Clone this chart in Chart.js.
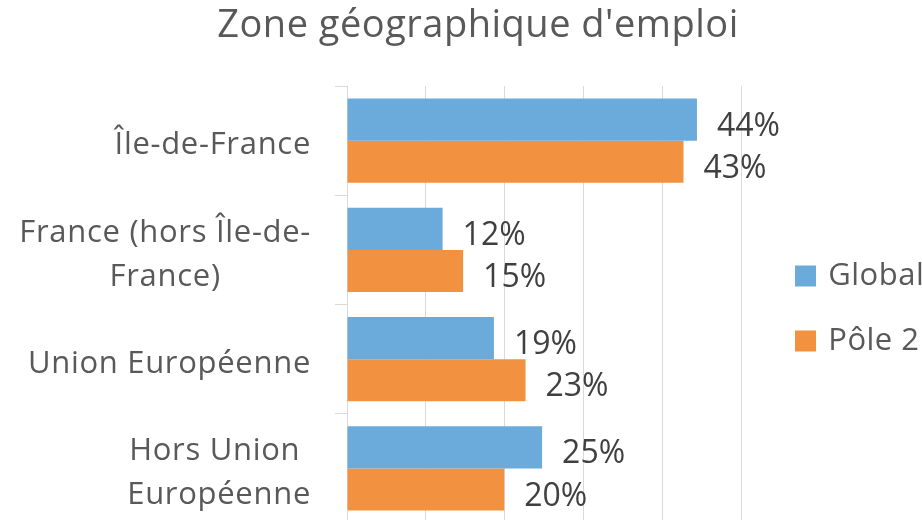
<!DOCTYPE html>
<html>
<head>
<meta charset="utf-8">
<script src="https://cdn.jsdelivr.net/npm/chart.js@4/dist/chart.umd.min.js"></script>
<style>
  html, body { margin: 0; padding: 0; background: #ffffff; overflow: hidden; }
  #wrap { width: 922px; height: 523px; position: relative; }
</style>
</head>
<body>
<div id="wrap"><canvas id="c"></canvas></div>
<script>
const chartTitle = "Zone géographique d'emploi";
const categories = [
  ['Île-de-France'],
  ['France (hors Île-de-', 'France)'],
  ['Union Européenne'],
  ['Hors Union ', 'Européenne']
];
const seriesNames = ['Global', 'Pôle 2'];
// bar lengths (labels show them rounded)
const globalValues = [44.3, 12.1, 18.6, 24.7];
const pole2Values = [42.6, 14.7, 22.6, 19.9];
const gridTicks = [0, 10, 20, 30, 40, 50];

const FONT = "'Open Sans', 'Noto Sans', sans-serif";
const TEXT_GREY = '#595959';

const spacing = {
  id: 'spacing',
  beforeDraw(chart) { chart.ctx.letterSpacing = '0.5px'; },
  afterDraw(chart) { chart.ctx.letterSpacing = '0px'; }
};

const legendShift = {
  id: 'legendShift',
  afterLayout(chart) {
    const lg = chart.legend;
    if (lg) { lg.top += 47; lg.bottom += 47; }
  }
};

const valueLabels = {
  id: 'valueLabels',
  afterDatasetsDraw(chart) {
    const ctx = chart.ctx;
    ctx.save();
    ctx.letterSpacing = '0px';
    ctx.font = '32px ' + FONT;
    ctx.fillStyle = '#404040';
    ctx.textAlign = 'left';
    ctx.textBaseline = 'middle';
    chart.data.datasets.forEach((ds, di) => {
      const meta = chart.getDatasetMeta(di);
      meta.data.forEach((el, i) => {
        ctx.fillText(Math.round(ds.data[i]) + '%', el.x + 20, el.y + 7);
      });
    });
    ctx.restore();
  }
};

const categoryLabels = {
  id: 'categoryLabels',
  afterDraw(chart) {
    const ctx = chart.ctx;
    const y = chart.scales.y;
    ctx.save();
    ctx.letterSpacing = '0.7px';
    ctx.font = '31px ' + FONT;
    ctx.fillStyle = TEXT_GREY;
    ctx.textAlign = 'center';
    ctx.textBaseline = 'middle';
    const right = y.right - 36;
    const lh = 44;
    categories.forEach((lines, i) => {
      const cy = y.getPixelForValue(i) + 5;
      const w = Math.max(...lines.map(l => ctx.measureText(l).width));
      const cx = right - w / 2;
      const start = cy - (lines.length - 1) * lh / 2;
      lines.forEach((l, k) => ctx.fillText(l, cx, start + k * lh));
    });
    ctx.restore();
  }
};

new Chart(document.getElementById('c'), {
  type: 'bar',
  data: {
    labels: categories,
    datasets: [
      { label: seriesNames[0], data: globalValues, backgroundColor: '#6BABDC', borderWidth: 0 },
      { label: seriesNames[1], data: pole2Values, backgroundColor: '#F29240', borderWidth: 0 }
    ]
  },
  options: {
    indexAxis: 'y',
    responsive: true,
    maintainAspectRatio: false,
    animation: false,
    events: [],
    layout: { padding: { left: 34, right: 0, top: 0, bottom: 0 } },
    datasets: { bar: { categoryPercentage: 0.77, barPercentage: 1.0 } },
    scales: {
      x: {
        min: 0,
        max: 52.82,
        afterBuildTicks(scale) { scale.ticks = gridTicks.map(v => ({ value: v })); },
        ticks: { display: false },
        grid: { color: '#D9D9D9', lineWidth: 1, drawTicks: false },
        border: { display: false }
      },
      y: {
        afterFit(scale) { scale.width = 313; },
        ticks: { display: false },
        grid: { drawOnChartArea: false, drawTicks: true, tickLength: 12, color: '#D9D9D9', offset: true },
        border: { display: true, color: '#D9D9D9' }
      }
    },
    plugins: {
      title: {
        display: true,
        text: chartTitle,
        color: TEXT_GREY,
        font: { family: FONT, size: 38, weight: 'normal' },
        padding: { top: 3, bottom: 37.4 }
      },
      legend: {
        position: 'right',
        align: 'center',
        maxWidth: 157.75,
        labels: {
          usePointStyle: true,
          pointStyle: 'rect',
          boxWidth: 14.5,
          boxHeight: 21,
          padding: 34,
          color: TEXT_GREY,
          font: { family: FONT, size: 31 }
        }
      },
      tooltip: { enabled: false }
    }
  },
  plugins: [spacing, legendShift, valueLabels, categoryLabels]
});
</script>
</body>
</html>
